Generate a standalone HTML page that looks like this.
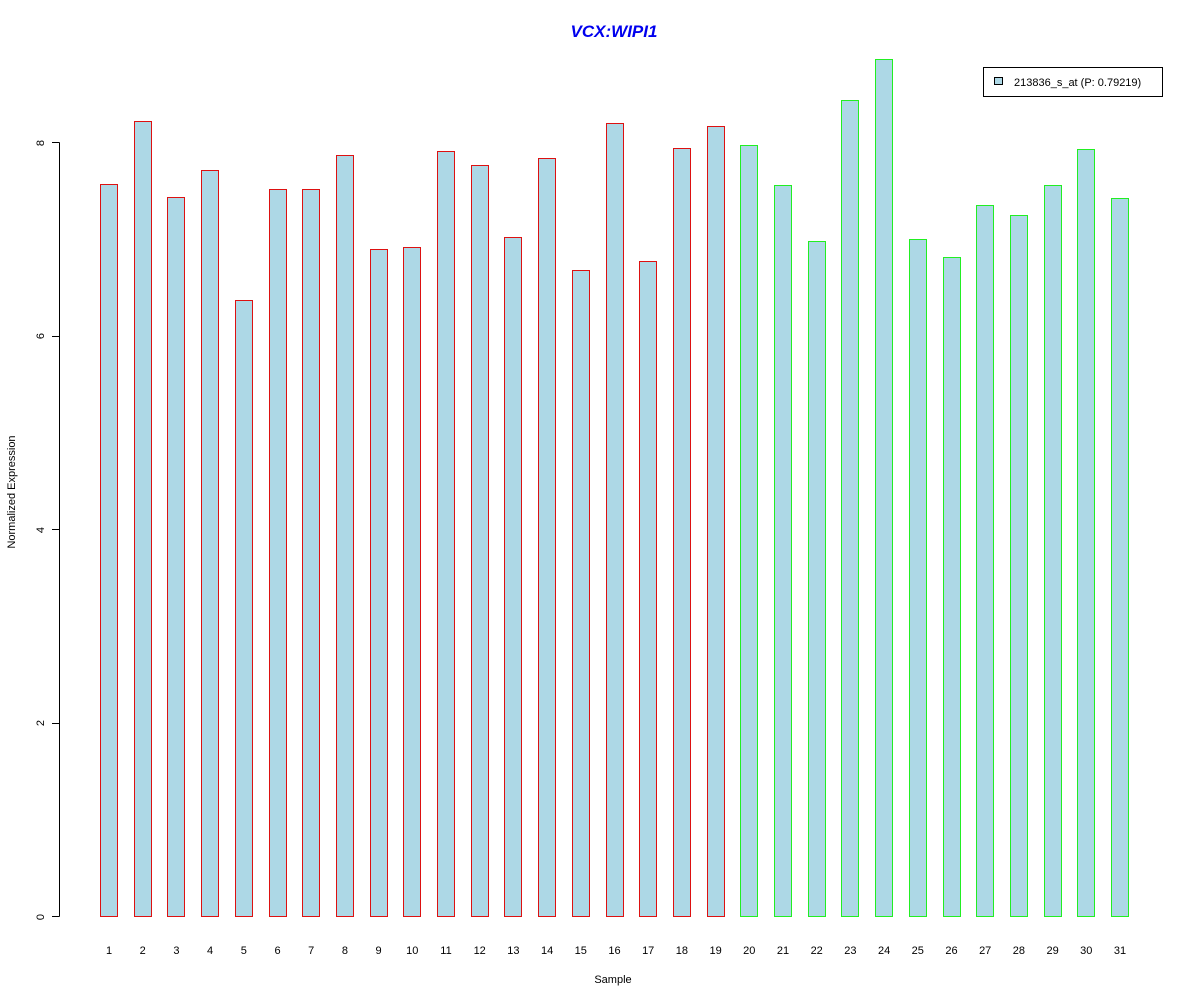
<!DOCTYPE html><html><head><style>body{margin:0;background:#fff}svg{display:block}</style></head><body>
<svg width="1200" height="1000" xmlns="http://www.w3.org/2000/svg" font-family="Liberation Sans, sans-serif">
<defs>
<g id="red">
<rect x="100.5" y="184.5" width="17" height="732"/>
<rect x="134.5" y="121.5" width="17" height="795"/>
<rect x="167.5" y="197.5" width="17" height="719"/>
<rect x="201.5" y="170.5" width="17" height="746"/>
<rect x="235.5" y="300.5" width="17" height="616"/>
<rect x="269.5" y="189.5" width="17" height="727"/>
<rect x="302.5" y="189.5" width="17" height="727"/>
<rect x="336.5" y="155.5" width="17" height="761"/>
<rect x="370.5" y="249.5" width="17" height="667"/>
<rect x="403.5" y="247.5" width="17" height="669"/>
<rect x="437.5" y="151.5" width="17" height="765"/>
<rect x="471.5" y="165.5" width="17" height="751"/>
<rect x="504.5" y="237.5" width="17" height="679"/>
<rect x="538.5" y="158.5" width="17" height="758"/>
<rect x="572.5" y="270.5" width="17" height="646"/>
<rect x="606.5" y="123.5" width="17" height="793"/>
<rect x="639.5" y="261.5" width="17" height="655"/>
<rect x="673.5" y="148.5" width="17" height="768"/>
<rect x="707.5" y="126.5" width="17" height="790"/>
</g>
<g id="green">
<rect x="740.5" y="145.5" width="17" height="771"/>
<rect x="774.5" y="185.5" width="17" height="731"/>
<rect x="808.5" y="241.5" width="17" height="675"/>
<rect x="841.5" y="100.5" width="17" height="816"/>
<rect x="875.5" y="59.5" width="17" height="857"/>
<rect x="909.5" y="239.5" width="17" height="677"/>
<rect x="943.5" y="257.5" width="17" height="659"/>
<rect x="976.5" y="205.5" width="17" height="711"/>
<rect x="1010.5" y="215.5" width="17" height="701"/>
<rect x="1044.5" y="185.5" width="17" height="731"/>
<rect x="1077.5" y="149.5" width="17" height="767"/>
<rect x="1111.5" y="198.5" width="17" height="718"/>
</g>
</defs>
<rect width="1200" height="1000" fill="#fff"/>
<text x="614" y="37" text-anchor="middle" font-size="17" font-weight="bold" font-style="italic" fill="#0000ee">VCX:WIPI1</text>
<g stroke="#000" stroke-width="1" shape-rendering="crispEdges">
<line x1="59.5" y1="142.5" x2="59.5" y2="916.5"/>
<line x1="52" y1="142.5" x2="59.5" y2="142.5"/>
<line x1="52" y1="336.5" x2="59.5" y2="336.5"/>
<line x1="52" y1="529.5" x2="59.5" y2="529.5"/>
<line x1="52" y1="723.5" x2="59.5" y2="723.5"/>
<line x1="52" y1="916.5" x2="59.5" y2="916.5"/>
</g>
<g font-size="11" text-anchor="middle">
<text transform="translate(44,143) rotate(-90)">8</text>
<text transform="translate(44,336) rotate(-90)">6</text>
<text transform="translate(44,530) rotate(-90)">4</text>
<text transform="translate(44,723) rotate(-90)">2</text>
<text transform="translate(44,917) rotate(-90)">0</text>
<text transform="translate(15,492) rotate(-90)">Normalized Expression</text>
<text x="613" y="983">Sample</text>
</g>
<use href="#red" fill="#add8e6" stroke="none"/>
<use href="#green" fill="#add8e6" stroke="none"/>
<use href="#red" fill="none" stroke="#dd1111" stroke-width="1"/>
<use href="#green" fill="none" stroke="#22ee22" stroke-width="1"/>
<g font-size="11" text-anchor="middle">
<text x="109" y="954">1</text><text x="142.7" y="954">2</text><text x="176.4" y="954">3</text><text x="210.1" y="954">4</text><text x="243.8" y="954">5</text><text x="277.5" y="954">6</text><text x="311.2" y="954">7</text><text x="344.9" y="954">8</text><text x="378.6" y="954">9</text><text x="412.3" y="954">10</text><text x="446" y="954">11</text><text x="479.7" y="954">12</text><text x="513.4" y="954">13</text><text x="547.1" y="954">14</text><text x="580.8" y="954">15</text><text x="614.5" y="954">16</text><text x="648.2" y="954">17</text><text x="681.9" y="954">18</text><text x="715.6" y="954">19</text><text x="749.3" y="954">20</text><text x="783" y="954">21</text><text x="816.7" y="954">22</text><text x="850.4" y="954">23</text><text x="884.1" y="954">24</text><text x="917.8" y="954">25</text><text x="951.5" y="954">26</text><text x="985.2" y="954">27</text><text x="1018.9" y="954">28</text><text x="1052.6" y="954">29</text><text x="1086.3" y="954">30</text><text x="1120" y="954">31</text>
</g>
<rect x="983.5" y="67.5" width="179" height="29" fill="#fff" stroke="#000"/>
<rect x="994.5" y="77.5" width="8" height="7" fill="#add8e6" stroke="#000"/>
<text x="1014" y="86" font-size="11">213836_s_at (P: 0.79219)</text>
</svg>
</body></html>
